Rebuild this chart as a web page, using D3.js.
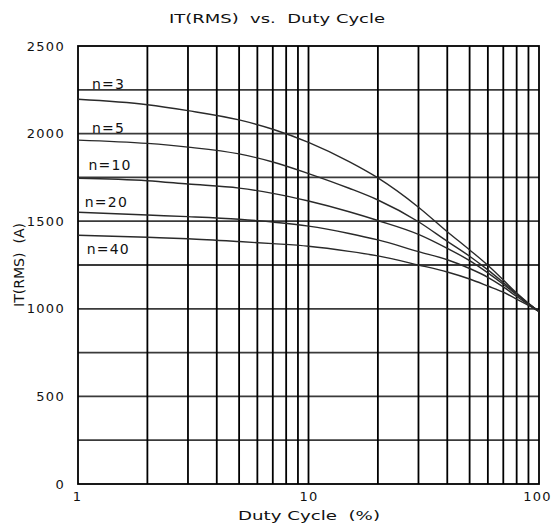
<!DOCTYPE html>
<html>
<head>
<meta charset="utf-8">
<script src="https://cdn.jsdelivr.net/npm/d3@7"></script>
<style>
  body { margin: 0; background: #fff; }
  text { font-family: "DejaVu Sans", "Liberation Sans", sans-serif; fill: #111; }
</style>
</head>
<body>
<div id="plot"></div>
<script>
// duty cycle (%) sample points
const duty = [1, 2, 3, 5, 7, 10, 15, 20, 30, 40, 50, 60, 70, 80, 90, 100];

// IT(RMS) in A for each n
const n3  = [2196, 2165, 2131, 2078, 2025, 1950, 1840, 1747, 1580, 1440, 1336, 1248, 1164, 1090, 1032, 985];
const n5  = [1963, 1944, 1923, 1884, 1838, 1772, 1688, 1621, 1497, 1385, 1300, 1222, 1150, 1085, 1030, 985];
const n10 = [1745, 1731, 1712, 1689, 1659, 1615, 1554, 1504, 1425, 1345, 1275, 1205, 1140, 1080, 1028, 985];
const n20 = [1551, 1535, 1526, 1511, 1495, 1472, 1430, 1393, 1326, 1280, 1230, 1180, 1125, 1070, 1025, 985];
const n40 = [1420, 1408, 1400, 1384, 1372, 1357, 1328, 1302, 1250, 1210, 1170, 1130, 1095, 1055, 1020, 985];

const seriesNames = ["n=3", "n=5", "n=10", "n=20", "n=40"];
const seriesValues = [n3, n5, n10, n20, n40];

const yTicks = [0, 500, 1000, 1500, 2000, 2500];
const yGrid = [250, 500, 750, 1000, 1250, 1500, 1750, 2000, 2250];
const xTicks = [1, 10, 100];
const xGrid = [2, 3, 4, 5, 6, 7, 8, 9, 10, 20, 30, 40, 50, 60, 70, 80, 90];

// canvas
const width = 555;
const height = 527;
const margin = {top: 46, right: 16, bottom: 43, left: 78};

const svg = d3.select("#plot").append("svg")
    .attr("width", width)
    .attr("height", height);

// scales
const xScale = d3.scaleLog()
    .domain([1, 100])
    .range([margin.left, width - margin.right]);

const yScale = d3.scaleLinear()
    .domain([0, 2500])
    .range([height - margin.bottom, margin.top]);

// horizontal grid
svg.append("g").selectAll("line")
    .data(yGrid)
    .enter()
    .append("line")
    .attr("x1", margin.left)
    .attr("x2", width - margin.right)
    .attr("y1", d => yScale(d))
    .attr("y2", d => yScale(d))
    .attr("stroke", "#3a3a3a")
    .attr("stroke-width", 1.8);

// vertical grid
svg.append("g").selectAll("line")
    .data(xGrid)
    .enter()
    .append("line")
    .attr("x1", d => xScale(d))
    .attr("x2", d => xScale(d))
    .attr("y1", margin.top)
    .attr("y2", height - margin.bottom)
    .attr("stroke", "#000")
    .attr("stroke-width", 1.8);

// frame
svg.append("rect")
    .attr("x", margin.left)
    .attr("y", margin.top)
    .attr("width", width - margin.left - margin.right)
    .attr("height", height - margin.top - margin.bottom)
    .attr("fill", "none")
    .attr("stroke", "#000")
    .attr("stroke-width", 1.8);

// axes (labels only, no tick marks)
const xAxis = d3.axisBottom(xScale)
    .tickValues(xTicks)
    .tickFormat(d3.format("d"))
    .tickSize(0)
    .tickPadding(8);
const yAxis = d3.axisLeft(yScale)
    .tickValues(yTicks)
    .tickFormat(d3.format("d"))
    .tickSize(0)
    .tickPadding(13);

const gx = svg.append("g")
    .attr("transform", `translate(0, ${height - margin.bottom})`)
    .call(xAxis);
const gy = svg.append("g")
    .attr("transform", `translate(${margin.left}, 0)`)
    .call(yAxis);

[gx, gy].forEach(g => {
    g.select(".domain").remove();
    g.selectAll("text")
        .attr("font-family", "DejaVu Sans")
        .attr("font-size", 13)
        .attr("letter-spacing", 1.3)
        .attr("fill", "#111");
});
gx.selectAll("text").filter(d => d === 1).attr("dx", -1);
gx.selectAll("text").filter(d => d === 100).attr("dx", -2);

// curves
const line = d3.line()
    .x(d => xScale(d[0]))
    .y(d => yScale(d[1]))
    .curve(d3.curveMonotoneX);

svg.append("g").selectAll("path")
    .data(seriesValues)
    .enter()
    .append("path")
    .attr("d", vals => line(duty.map((x, i) => [x, vals[i]])))
    .attr("fill", "none")
    .attr("stroke", "#2a2a2a")
    .attr("stroke-width", 1.4);

// series labels near the left edge
const labelY = [2252, 2002, 1792, 1579, 1313];
const labelX = [1.15, 1.15, 1.11, 1.07, 1.09];
svg.append("g").selectAll("text")
    .data(seriesNames)
    .enter()
    .append("text")
    .attr("x", (d, i) => xScale(labelX[i]))
    .attr("y", (d, i) => yScale(labelY[i]))
    .attr("font-size", 14)
    .attr("letter-spacing", 1.2)
    .text(d => d);

// title
svg.append("text")
    .attr("x", 277)
    .attr("y", 23)
    .attr("text-anchor", "middle")
    .attr("font-size", 13)
    .attr("textLength", 216)
    .attr("lengthAdjust", "spacingAndGlyphs")
    .style("white-space", "pre")
    .text("IT(RMS)  vs.  Duty Cycle");

// axis titles
svg.append("text")
    .attr("x", 309)
    .attr("y", 520)
    .attr("text-anchor", "middle")
    .attr("font-size", 13)
    .attr("textLength", 142)
    .attr("lengthAdjust", "spacingAndGlyphs")
    .style("white-space", "pre")
    .text("Duty Cycle  (%)");

svg.append("text")
    .attr("transform", "translate(24, 265) rotate(-90)")
    .attr("text-anchor", "middle")
    .attr("font-family", "Liberation Sans Narrow, Liberation Sans, sans-serif")
    .attr("font-size", 14)
    .attr("textLength", 84)
    .attr("lengthAdjust", "spacingAndGlyphs")
    .style("white-space", "pre")
    .text("IT(RMS)  (A)");
</script>
</body>
</html>
